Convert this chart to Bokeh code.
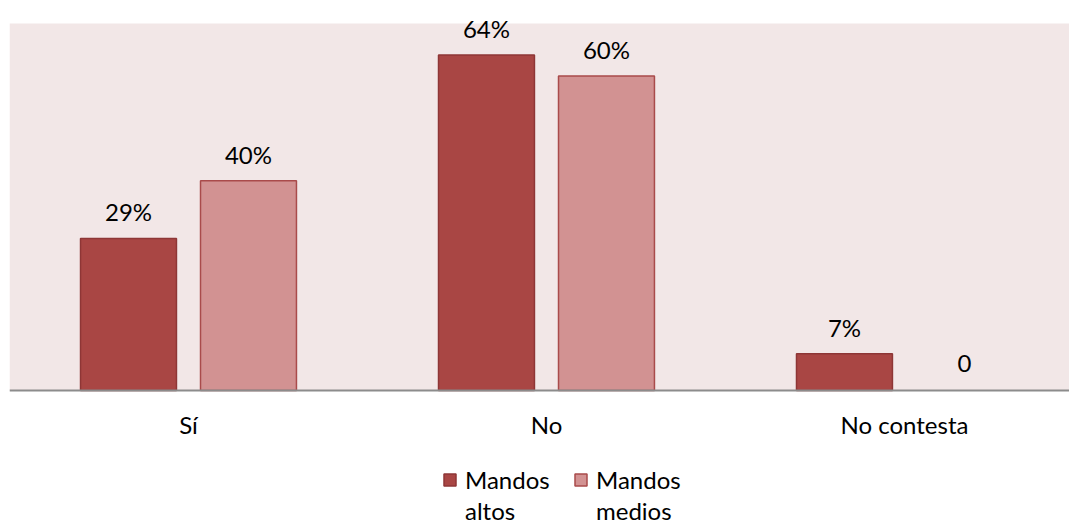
from bokeh.plotting import figure
from bokeh.models import (ColumnDataSource, Range1d, FixedTicker, Legend,
                          LegendItem, BoxAnnotation)
from bokeh.core.properties import value
from bokeh.embed import file_html
from bokeh.resources import INLINE

# Survey answers, share of respondents (%)
categories = ["Sí", "No", "No contesta"]
altos = [29, 64, 7]
medios = [40, 60, 0]
series_names = ["Mandos altos", "Mandos medios"]

FONT = "Lato"
FS = "24px"
DARK = "#A94644"
DARK_EDGE = "#8E3636"
LIGHT = "#D29292"
LIGHT_EDGE = "#A94B4B"
BG = "#F2E7E7"

x = list(range(len(categories)))
offset = 0.1676
width = 0.268

# The frame spans the whole canvas height so that value labels above the
# shaded area and the legend below the axis are not clipped.
Y_MAX = 70
p = figure(width=1069, height=525, frame_width=1060, frame_height=525,
           x_range=Range1d(-0.5, 2.461), y_range=Range1d(-25.75, 74.39),
           output_backend="svg", toolbar_location=None,
           min_border_left=9, min_border_right=0, min_border_top=0,
           min_border_bottom=0,
           background_fill_color="white", border_fill_color="white",
           outline_line_color=None)

p.add_layout(BoxAnnotation(bottom=0, top=Y_MAX, fill_color=BG, fill_alpha=1,
                           line_color=None, level="underlay"))

def bars(vals, dx, fill, edge):
    xs = [i + dx for i, v in zip(x, vals) if v > 0]
    tops = [v for v in vals if v > 0]
    src = ColumnDataSource(dict(x=xs, top=tops))
    return p.vbar(x="x", top="top", bottom=0, width=width, source=src,
                  fill_color=fill, line_color=edge, line_width=1.5)

r1 = bars(altos, -offset, DARK, DARK_EDGE)
r2 = bars(medios, offset, LIGHT, LIGHT_EDGE)

def labels(vals, dx):
    src = ColumnDataSource(dict(
        x=[i + dx for i in x], y=vals,
        t=[f"{v}%" if v else "0" for v in vals],
        dy=[-12 if v else -19 for v in vals]))
    p.text(x="x", y="y", text="t", source=src, text_align="center",
           text_baseline="bottom", y_offset="dy", text_font=value(FONT),
           text_font_size=FS, text_color="black")

labels(altos, -offset)
labels(medios, offset)

p.yaxis.visible = False
p.grid.visible = False

xa = p.xaxis[0]
xa.fixed_location = 0
xa.ticker = FixedTicker(ticks=x)
xa.major_label_overrides = {i: c for i, c in zip(x, categories)}
xa.major_tick_line_color = None
xa.minor_tick_line_color = None
xa.axis_line_color = "#8C8C8C"
xa.axis_line_width = 2
xa.major_label_standoff = 13
xa.major_label_text_font = FONT
xa.major_label_text_font_size = FS
xa.major_label_text_color = "black"

# Legend: series names wrap onto two lines, the swatch sits on the first one
first = [n.split(" ", 1)[0] for n in series_names]
second = [n.split(" ", 1)[1] for n in series_names]
blank = p.vbar(x=[], top=[], width=width, fill_alpha=0, line_alpha=0)

legend_style = dict(orientation="horizontal", label_text_font=FONT,
                    label_text_font_size=FS, label_text_color="black",
                    glyph_width=15, glyph_height=15, label_standoff=8,
                    label_width=90, border_line_color=None,
                    background_fill_alpha=0, spacing=18, padding=0, margin=0)

top_row = Legend(items=[LegendItem(label=first[0], renderers=[r1]),
                        LegendItem(label=first[1], renderers=[r2])],
                 location=(433, 31), **legend_style)
bottom_row = Legend(items=[LegendItem(label=second[0], renderers=[blank]),
                           LegendItem(label=second[1], renderers=[blank])],
                    location=(433, 0), **legend_style)
p.add_layout(top_row)
p.add_layout(bottom_row)

open("out.html", "w").write(file_html(p, INLINE))
